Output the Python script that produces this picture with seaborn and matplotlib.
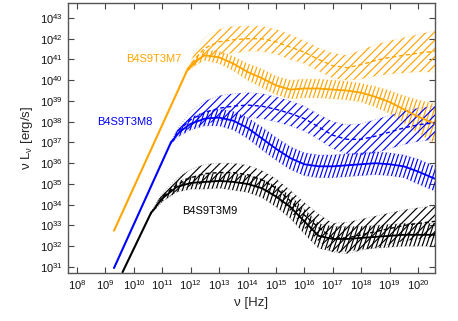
import numpy as np
import pandas as pd
import matplotlib
matplotlib.use("Agg")
import matplotlib.pyplot as plt
import matplotlib.hatch as mhatch
from matplotlib.path import Path
from matplotlib.ticker import FixedLocator, LogFormatterMathtext, NullLocator
import seaborn as sns

# ---------------- data (log10 values) ----------------
# B4S9T3M7 (orange)
m7_rise_nu = [9.3, 11.9]
m7_rise_L = [32.75, 40.55]
m7_nu = [11.9, 12.2, 12.5, 13.0, 13.5, 14.0, 14.5, 15.0, 15.5, 16.0, 16.5,
         17.0, 17.5, 18.0, 18.5, 19.0, 19.5, 20.0, 20.6]
m7_solid = [40.55, 40.95, 41.2, 41.1, 40.8, 40.4, 40.1, 39.75, 39.55, 39.6, 39.6,
            39.55, 39.5, 39.4, 39.2, 38.95, 38.6, 38.25, 37.9]
m7_solid_hw = [0.1, 0.2, 0.25, 0.3, 0.35, 0.4, 0.45, 0.45, 0.45, 0.45, 0.45,
               0.45, 0.45, 0.45, 0.5, 0.55, 0.65, 0.8, 0.95]
m7_dash = [40.55, 41.1, 41.55, 41.85, 41.95, 42.0, 42.0, 41.85, 41.6, 41.35, 41.0,
           40.7, 40.6, 40.75, 40.95, 41.1, 41.2, 41.3, 41.4]
m7_dash_hw = [0.1, 0.35, 0.5, 0.6, 0.65, 0.6, 0.6, 0.6, 0.6, 0.55, 0.55,
              0.6, 0.6, 0.7, 0.75, 0.8, 0.85, 0.9, 1.0]

# B4S9T3M8 (blue)
m8_rise_nu = [9.3, 11.3]
m8_rise_L = [30.95, 36.99]
m8_nu = [11.3, 11.6, 12.0, 12.5, 13.0, 13.5, 14.0, 14.5, 15.0, 15.5, 16.0,
         16.5, 17.0, 17.5, 18.0, 18.5, 19.0, 19.5, 20.0, 20.6]
m8_solid = [36.99, 37.5, 37.9, 38.15, 38.2, 38.05, 37.7, 37.2, 36.7, 36.25, 35.95,
            35.85, 35.85, 35.9, 35.95, 36.0, 35.95, 35.85, 35.6, 35.25]
m8_solid_hw = [0.05, 0.2, 0.3, 0.35, 0.4, 0.45, 0.5, 0.55, 0.55, 0.55, 0.55,
               0.55, 0.55, 0.55, 0.55, 0.55, 0.55, 0.55, 0.6, 0.6]
m8_dash = [36.99, 37.6, 38.1, 38.45, 38.65, 38.75, 38.8, 38.75, 38.6, 38.4, 38.15,
           37.75, 37.35, 37.15, 37.15, 37.3, 37.5, 37.7, 37.85, 37.95]
m8_dash_hw = [0.05, 0.2, 0.4, 0.55, 0.6, 0.6, 0.6, 0.6, 0.6, 0.6, 0.6,
              0.6, 0.65, 0.7, 0.75, 0.8, 0.8, 0.8, 0.8, 0.8]

# B4S9T3M9 (black)
m9_rise_nu = [9.6, 10.6]
m9_rise_L = [30.75, 33.6]
m9_nu = [10.6, 11.0, 11.5, 12.0, 12.5, 13.0, 13.5, 14.0, 14.5, 15.0, 15.5,
         16.0, 16.5, 17.0, 17.5, 18.0, 18.5, 19.0, 19.5, 20.0, 20.6]
m9_solid = [33.6, 34.3, 34.85, 35.05, 35.1, 35.15, 35.1, 35.0, 34.8, 34.4, 33.9,
            33.2, 32.5, 32.35, 32.35, 32.4, 32.45, 32.5, 32.55, 32.55, 32.55]
m9_solid_hw = [0.05, 0.15, 0.25, 0.3, 0.35, 0.35, 0.4, 0.4, 0.45, 0.5, 0.55,
               0.6, 0.6, 0.6, 0.6, 0.55, 0.55, 0.55, 0.55, 0.55, 0.55]
m9_dash = [33.6, 34.35, 34.95, 35.3, 35.5, 35.55, 35.55, 35.45, 35.2, 34.8, 34.2,
           33.5, 32.9, 32.4, 32.4, 32.55, 32.7, 32.85, 33.0, 33.1, 33.2]
m9_dash_hw = [0.05, 0.2, 0.3, 0.4, 0.45, 0.45, 0.45, 0.45, 0.45, 0.45, 0.5,
              0.6, 0.65, 0.7, 0.75, 0.75, 0.75, 0.75, 0.75, 0.75, 0.75]

model_names = ["B4S9T3M7", "B4S9T3M8", "B4S9T3M9"]
model_colors = ["#FFA500", "#0000FF", "#000000"]
label_pos = [(10.70, 41.02), (9.68, 37.99), (12.67, 33.70)]

x_tick_exp = list(range(8, 21))
y_tick_exp = list(range(31, 44))


# ---------------- steep hatch pattern (replaces '|') ----------------
class SteepHatch(mhatch.HatchPatternBase):
    def __init__(self, hatch, density):
        self.num_lines = int(hatch.count('|') * density)
        self.shift = self.num_lines // 3
        self.num_vertices = (self.num_lines + self.shift + 1) * 2 if self.num_lines else 0

    def set_vertices_and_codes(self, vertices, codes):
        n = self.num_lines
        idx = np.arange(-self.shift, n + 1)
        x0 = idx / n
        vertices[0::2, 0] = x0
        vertices[0::2, 1] = 0.0
        vertices[1::2, 0] = x0 + self.shift / n
        vertices[1::2, 1] = 1.0
        codes[0::2] = Path.MOVETO
        codes[1::2] = Path.LINETO


mhatch._hatch_types[mhatch._hatch_types.index(mhatch.VerticalHatch)] = SteepHatch

# ---------------- style ----------------
sns.set_theme(style="ticks")
plt.rcParams["font.family"] = ["Liberation Sans", "DejaVu Sans"]
plt.rcParams["mathtext.fontset"] = "custom"
plt.rcParams["mathtext.rm"] = "Liberation Sans"
plt.rcParams["mathtext.it"] = "Liberation Sans:italic"
plt.rcParams["hatch.linewidth"] = 0.85

fig = plt.figure(figsize=(4.58, 3.21), dpi=100)
ax = fig.add_axes([68 / 458, 1 - 273 / 321, (435 - 68) / 458, (273 - 3) / 321])
ax.set_xscale("log")
ax.set_yscale("log")

models = [
    (m7_rise_nu, m7_rise_L, m7_nu, m7_solid, m7_solid_hw, m7_dash, m7_dash_hw),
    (m8_rise_nu, m8_rise_L, m8_nu, m8_solid, m8_solid_hw, m8_dash, m8_dash_hw),
    (m9_rise_nu, m9_rise_L, m9_nu, m9_solid, m9_solid_hw, m9_dash, m9_dash_hw),
]

for (rnu, rL, nu, sol, shw, das, dhw), name, col, lp in zip(models, model_names, model_colors, label_pos):
    nu = np.array(nu)
    sol = np.array(sol); shw = np.array(shw)
    das = np.array(das); dhw = np.array(dhw)
    xs = 10 ** nu
    with plt.rc_context({"hatch.color": col}):
        ax.fill_between(xs, 10 ** (das - dhw), 10 ** (das + dhw), facecolor="none",
                        edgecolor=col, linewidth=0, hatch="////")
        ax.fill_between(xs, 10 ** (sol - shw), 10 ** (sol + shw), facecolor="none",
                        edgecolor=col, linewidth=0, hatch="||||")
    for arr in (das - dhw, das + dhw, sol - shw, sol + shw):
        ax.plot(xs, 10 ** arr, ls=":", lw=0.7, color=col, alpha=0.3)

    df_rise = pd.DataFrame({"nu": 10 ** np.array(rnu), "L": 10 ** np.array(rL)})
    df_sol = pd.DataFrame({"nu": xs, "L": 10 ** sol})
    df_das = pd.DataFrame({"nu": xs, "L": 10 ** das})
    sns.lineplot(data=df_rise, x="nu", y="L", color=col, lw=1.5, ax=ax,
                 estimator=None, sort=False)
    sns.lineplot(data=df_sol, x="nu", y="L", color=col, lw=1.3, ax=ax,
                 estimator=None, sort=False)
    sns.lineplot(data=df_das, x="nu", y="L", color=col, lw=1.0, ax=ax,
                 estimator=None, sort=False, linestyle=(0, (3, 2)))
    ax.text(10 ** lp[0], 10 ** lp[1], name, color=col, fontsize=8,
            ha="center", va="center")

ax.set_xlim(10 ** 7.68, 10 ** 20.6)
ax.set_ylim(10 ** 30.71, 10 ** 43.72)
ax.xaxis.set_major_locator(FixedLocator([10.0 ** e for e in x_tick_exp]))
ax.yaxis.set_major_locator(FixedLocator([10.0 ** e for e in y_tick_exp]))
ax.xaxis.set_major_formatter(LogFormatterMathtext())
ax.yaxis.set_major_formatter(LogFormatterMathtext())
ax.xaxis.set_minor_locator(NullLocator())
ax.yaxis.set_minor_locator(NullLocator())
ax.tick_params(which="both", direction="in", length=4, width=0.8, color="#444444",
               top=True, right=True, labelsize=8, pad=4, labelcolor="#111111")
for sp in ax.spines.values():
    sp.set_color("#555555")
    sp.set_linewidth(1.0)

ax.set_xlabel("ν [Hz]", fontsize=9.5, labelpad=3)
ax.set_ylabel(r"ν L$_{\mathregular{ν}}$ [erg/s]", fontsize=9.5, labelpad=3)

fig.savefig("out.png", dpi=100)
